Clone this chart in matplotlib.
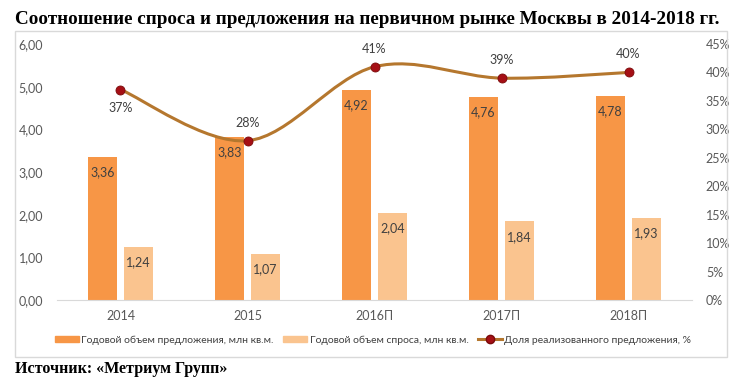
import numpy as np
import matplotlib
matplotlib.use("Agg")
import matplotlib.pyplot as plt
from matplotlib.path import Path
from matplotlib.patches import PathPatch, Rectangle
from matplotlib.lines import Line2D
from matplotlib.ticker import FuncFormatter, MultipleLocator

# данные
years = ["2014", "2015", "2016П", "2017П", "2018П"]
supply = [3.36, 3.83, 4.92, 4.76, 4.78]
demand = [1.24, 1.07, 2.04, 1.84, 1.93]
share = [0.37, 0.28, 0.41, 0.39, 0.40]

title = "Соотношение спроса и предложения на первичном рынке Москвы в 2014-2018 гг."
source = "Источник: «Метриум Групп»"
legend_labels = ["Годовой объем предложения, млн кв.м.",
                 "Годовой объем спроса, млн кв.м.",
                 "Доля реализованного предложения, %"]

C_SUPPLY = "#F79646"
C_DEMAND = "#FAC48F"
C_LINE = "#B5772E"
C_MARK = "#A50F15"
C_TICK = "#595959"
C_LBL = "#404040"

plt.rcParams["font.family"] = ["Lato", "Open Sans", "DejaVu Sans"]

fig = plt.figure(figsize=(7.34, 3.85), dpi=100)
# рамка вокруг диаграммы
fig.patches.append(Rectangle((15 / 734, 1 - 357 / 385), 712 / 734, 326 / 385,
                             transform=fig.transFigure, fill=False,
                             edgecolor="#D9D9D9", linewidth=1.0))

ax = fig.add_axes([57 / 734, 1 - 300 / 385, 635 / 734, 256 / 385])
ax2 = ax.twinx()

x = np.arange(len(years))
w = 0.23
off = 0.142
b1 = ax.bar(x - off, supply, w, color=C_SUPPLY, zorder=2)
b2 = ax.bar(x + off, demand, w, color=C_DEMAND, zorder=2)

for rects, vals in ((b1, supply), (b2, demand)):
    for r, v in zip(rects, vals):
        ax.annotate(f"{v:.2f}".replace(".", ","),
                    (r.get_x() + r.get_width() / 2, r.get_height()),
                    xytext=(0, -11), textcoords="offset points",
                    ha="center", va="center", fontsize=9, color=C_LBL)

ax.set_xlim(-0.5, len(years) - 0.5)
ax.set_ylim(0, 6)
ax.yaxis.set_major_locator(MultipleLocator(1))
ax.yaxis.set_major_formatter(FuncFormatter(lambda v, p: f"{v:.2f}".replace(".", ",")))
ax.set_xticks(x)
ax.set_xticklabels(years)

ax2.set_ylim(0, 0.45)
ax2.yaxis.set_major_locator(MultipleLocator(0.05))
ax2.yaxis.set_major_formatter(FuncFormatter(lambda v, p: f"{v * 100:.0f}%"))

for a in (ax, ax2):
    for s in a.spines.values():
        s.set_visible(False)
    a.tick_params(length=0, labelsize=9, labelcolor=C_TICK)
ax.tick_params(axis="y", pad=10)
ax.tick_params(axis="x", pad=7)
ax2.tick_params(axis="y", pad=10)
ax.spines["bottom"].set_visible(True)
ax.spines["bottom"].set_color("#D9D9D9")

# сглаженная линия (как в Excel): кубические Безье через точки
pts = np.column_stack([x, share]).astype(float)
verts = [tuple(pts[0])]
codes = [Path.MOVETO]
n = len(pts)
for i in range(n - 1):
    p0 = pts[i - 1] if i > 0 else pts[i]
    p1, p2 = pts[i], pts[i + 1]
    p3 = pts[i + 2] if i + 2 < n else pts[i + 1]
    verts += [tuple(p1 + (p2 - p0) / 6), tuple(p2 - (p3 - p1) / 6), tuple(p2)]
    codes += [Path.CURVE4] * 3
ax2.add_patch(PathPatch(Path(verts, codes), facecolor="none", edgecolor=C_LINE,
                        linewidth=2.2, zorder=3))
ax2.plot(x, share, linestyle="none", marker="o", markersize=6.5,
         markerfacecolor=C_MARK, markeredgecolor="#7A0A0A", markeredgewidth=0.6, zorder=4)

for i, v in enumerate(share):
    dy = -13 if i == 0 else 13
    ax2.annotate(f"{v * 100:.0f}%", (x[i], v), xytext=(0, dy), textcoords="offset points",
                 ha="center", va="center", fontsize=9, color=C_LBL)

handles = [Rectangle((0, 0), 1, 1, color=C_SUPPLY),
           Rectangle((0, 0), 1, 1, color=C_DEMAND),
           Line2D([], [], color=C_LINE, linewidth=2.2, marker="o", markersize=6,
                  markerfacecolor=C_MARK, markeredgecolor="#7A0A0A")]
fig.legend(handles, legend_labels, loc="center", bbox_to_anchor=(373 / 734, 1 - 340 / 385),
           ncol=3, frameon=False, fontsize=7.5, labelcolor=C_LBL, handlelength=2.3,
           handleheight=0.5, handletextpad=0.25, columnspacing=0.9)

fig.text(15 / 734, 1 - 19 / 385, title, family="Liberation Serif", weight="bold",
         fontsize=13.8, va="center", ha="left", color="black")
fig.text(15 / 734, 1 - 369 / 385, source, family="Liberation Serif", weight="bold",
         fontsize=11.5, va="center", ha="left", color="black")

fig.savefig("out.png", dpi=100)
